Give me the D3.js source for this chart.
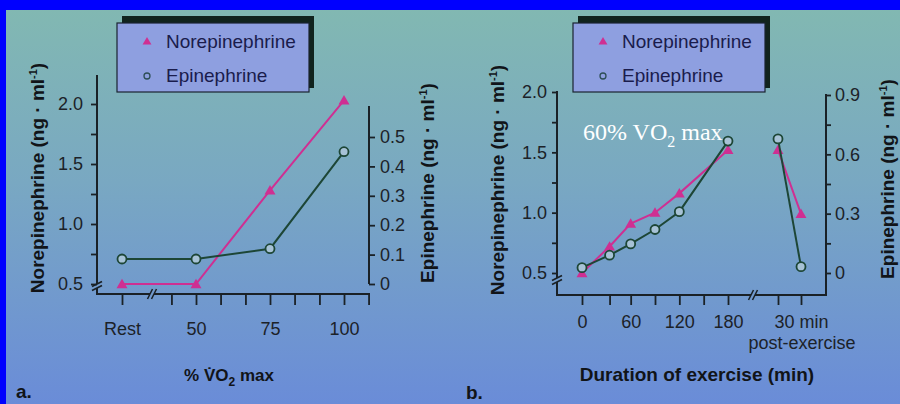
<!DOCTYPE html>
<html>
<head>
<meta charset="utf-8">
<script src="https://cdn.jsdelivr.net/npm/d3@7"></script>
<style>
  body { margin: 0; }
  svg { display: block; font-family: "Liberation Sans", Arial, sans-serif; }
</style>
</head>
<body>
<svg id="chart" width="900" height="404"></svg>
<script>
// ---- data ----
// panel a: intensity (Rest plotted one "50-step" left of 50)
const vo2Labels = ['Rest', '50', '75', '100'];
const vo2Pos = [25, 50, 75, 100];
const noreByIntensity = [0.5, 0.5, 1.28, 2.03];
const epiByIntensity = [0.085, 0.085, 0.12, 0.45];
const vo2Ticks = [25, 41.7, 50, 58.3, 66.7, 75, 83.3, 91.7, 100, 108.3];

// panel b: duration at 60% VO2 max, then post-exercise
const exMinutes = [0, 34, 60, 90, 120, 180];
const noreByTime = [0.5, 0.72, 0.91, 1.0, 1.16, 1.52];
const epiByTime = [0.027, 0.09, 0.147, 0.22, 0.31, 0.667];
const postMinutes = [0, 30];
const norePost = [1.52, 0.99];
const epiPost = [0.678, 0.032];
const timeTicks = [0, 34, 60, 90, 120, 150, 180];
const timeTickLabels = ['0', '', '60', '', '120', '', '180'];

const noreTicks = [0.5, 0.75, 1.0, 1.25, 1.5, 1.75, 2.0];
const epiTicksA = [0, 0.1, 0.2, 0.3, 0.4, 0.5];
const epiTicksB = [0, 0.15, 0.3, 0.45, 0.6, 0.75, 0.9];

// ---- style ----
const NORE = '#cf2f92';
const EPI = '#1d4636';
const AXIS = '#1a2126';
const TEXT = '#1c2228';

const svg = d3.select('#chart');

// background gradient + blue frame
const defs = svg.append('defs');
const grad = defs.append('linearGradient').attr('id', 'bg')
    .attr('x1', 0).attr('y1', 0).attr('x2', 0).attr('y2', 1);
grad.append('stop').attr('offset', '0%').attr('stop-color', '#82b9b1');
grad.append('stop').attr('offset', '45%').attr('stop-color', '#79a8c2');
grad.append('stop').attr('offset', '100%').attr('stop-color', '#6a8cd8');
svg.append('rect').attr('width', 900).attr('height', 404).attr('fill', 'url(#bg)');
svg.append('rect').attr('width', 900).attr('height', 10).attr('fill', '#0000ff');
svg.append('rect').attr('width', 6).attr('height', 404).attr('fill', '#0000ff');

// =========================================
// HELPERS
// =========================================

function line(g, x1, y1, x2, y2, w = 2) {
    g.append('line')
        .attr('x1', x1).attr('y1', y1).attr('x2', x2).attr('y2', y2)
        .attr('stroke', AXIS).attr('stroke-width', w);
}

// "//" on a horizontal axis
function xBreak(g, x, y) {
    [-2, 2].forEach(o => line(g, x + o - 2.5, y + 5, x + o + 2.5, y - 5, 1.6));
}

// "//" on a vertical axis
function yBreak(g, x, y) {
    [-2, 2].forEach(o => line(g, x - 5, y + o + 2.5, x + 5, y + o - 2.5, 1.6));
}

function styleAxis(g) {
    g.select('.domain').remove();
    g.selectAll('.tick line').attr('stroke', AXIS).attr('stroke-width', 1.8);
    g.selectAll('.tick text')
        .attr('fill', TEXT)
        .style('font-size', '18px')
        .style('font-family', '"Liberation Sans", Arial, sans-serif');
}

function yTitle(g, x, y, name) {
    const t = g.append('text')
        .attr('transform', `translate(${x},${y}) rotate(-90)`)
        .attr('text-anchor', 'middle')
        .attr('dy', '0.35em')
        .attr('fill', '#111418')
        .style('font-size', '19px')
        .style('font-weight', 'bold');
    t.append('tspan').text(`${name} (ng · ml`);
    t.append('tspan').attr('dy', -7).style('font-size', '11px').text('-1');
    t.append('tspan').attr('dy', 7).text(')');
}

function legend(g, x0) {
    g.append('rect').attr('x', x0 + 5).attr('y', 16).attr('width', 192).attr('height', 72)
        .attr('fill', '#11231d');
    g.append('rect').attr('x', x0).attr('y', 23).attr('width', 192).attr('height', 69)
        .attr('fill', '#8e9fe0').attr('stroke', '#1a2430').attr('stroke-width', 1.2);
    g.append('path')
        .attr('d', d3.symbol(d3.symbolTriangle, 34)())
        .attr('transform', `translate(${x0 + 30},42)`)
        .attr('fill', NORE);
    g.append('circle').attr('cx', x0 + 30).attr('cy', 76).attr('r', 3)
        .attr('fill', 'none').attr('stroke', '#2d4e56').attr('stroke-width', 1.3);
    g.append('text').attr('x', x0 + 49).attr('y', 48).text('Norepinephrine')
        .attr('fill', '#1a1c4c').style('font-size', '19px');
    g.append('text').attr('x', x0 + 49).attr('y', 81.5).text('Epinephrine')
        .attr('fill', '#1a1c4c').style('font-size', '19px');
}

function series(g, xs, ys, x, y) {
    // xs/ys: parallel arrays; returns point list
    return xs.map((v, i) => [x(v), y(ys[i])]);
}

function drawNore(g, pts) {
    g.append('path').attr('d', d3.line()(pts))
        .attr('fill', 'none').attr('stroke', NORE).attr('stroke-width', 2);
    g.selectAll(null).data(pts).enter().append('path')
        .attr('d', d3.symbol(d3.symbolTriangle, 52)())
        .attr('transform', d => `translate(${d[0]},${d[1] + 1})`)
        .attr('fill', NORE);
}

function drawEpi(g, pts) {
    g.append('path').attr('d', d3.line()(pts))
        .attr('fill', 'none').attr('stroke', EPI).attr('stroke-width', 2);
    g.selectAll(null).data(pts).enter().append('circle')
        .attr('cx', d => d[0]).attr('cy', d => d[1]).attr('r', 4.5)
        .attr('fill', '#a7c2d6').attr('stroke', EPI).attr('stroke-width', 1.8);
}

// =========================================
// PANEL A
// =========================================
const a = svg.append('g');
const xA = d3.scaleLinear().domain([25, 100]).range([122, 344]);
const yA = d3.scaleLinear().domain([0.5, 2.0]).range([284, 104]);
const yAe = d3.scaleLinear().domain([0, 0.5]).range([284, 137]);

legend(a, 117);

// left axis with break
line(a, 97, 75, 97, 284);
line(a, 97, 288, 97, 295);
yBreak(a, 97, 286);
a.append('g').attr('transform', 'translate(97,0)')
    .call(d3.axisLeft(yA).tickValues(noreTicks)
        .tickFormat(d => (d * 2) % 1 === 0 ? d.toFixed(1) : '')
        .tickSize(6).tickPadding(8))
    .call(styleAxis);

// right axis
line(a, 369, 106, 369, 284);
a.append('g').attr('transform', 'translate(369,0)')
    .call(d3.axisRight(yAe).tickValues(epiTicksA)
        .tickFormat(d => d === 0 ? '0' : d.toFixed(1))
        .tickSize(6).tickPadding(5))
    .call(styleAxis);

// x axis with break
line(a, 96, 294, 150, 294);
line(a, 154, 294, 370, 294);
xBreak(a, 152, 294);
a.append('g').attr('transform', 'translate(0,294)')
    .call(d3.axisBottom(xA).tickValues(vo2Ticks)
        .tickFormat(d => { const i = vo2Pos.indexOf(d); return i < 0 ? '' : vo2Labels[i]; })
        .tickSize(11).tickPadding(17))
    .call(styleAxis);

drawNore(a, series(a, vo2Pos, noreByIntensity, xA, yA));
drawEpi(a, series(a, vo2Pos, epiByIntensity, xA, yAe));

yTitle(a, 37, 178, 'Norepinephrine');
yTitle(a, 427, 183, 'Epinephrine');

const xtA = a.append('text').attr('x', 229).attr('y', 381).attr('text-anchor', 'middle')
    .attr('fill', '#111418').style('font-size', '17px').style('font-weight', 'bold');
xtA.append('tspan').text('% V\u0307O');
xtA.append('tspan').attr('dy', 5).style('font-size', '12px').text('2');
xtA.append('tspan').attr('dy', -5).text(' max');

a.append('text').attr('x', 16).attr('y', 398).text('a.')
    .attr('fill', '#111418').style('font-size', '19px').style('font-weight', 'bold');

// =========================================
// PANEL B
// =========================================
const b = svg.append('g');
const xB = d3.scaleLinear().domain([0, 180]).range([582, 728]);
const xP = d3.scaleLinear().domain([0, 30]).range([778, 801]);
const yB = d3.scaleLinear().domain([0.5, 2.0]).range([273, 92]);
const yBe = d3.scaleLinear().domain([0, 0.9]).range([273, 95]);

legend(b, 573);

// left axis with break
line(b, 557, 91, 557, 278);
line(b, 557, 282, 557, 296);
yBreak(b, 557, 280);
b.append('g').attr('transform', 'translate(557,0)')
    .call(d3.axisLeft(yB).tickValues(noreTicks)
        .tickFormat(d => (d * 2) % 1 === 0 ? d.toFixed(1) : '')
        .tickSize(5).tickPadding(5))
    .call(styleAxis);

// right axis
line(b, 826, 94, 826, 296);
b.append('g').attr('transform', 'translate(826,0)')
    .call(d3.axisRight(yBe).tickValues(epiTicksB)
        .tickFormat(d => d === 0 ? '0' : (Math.round(d * 10) % 3 === 0 ? d.toFixed(1) : ''))
        .tickSize(5).tickPadding(4))
    .call(styleAxis);

// x axis with break
line(b, 556, 295, 751, 295);
line(b, 755, 295, 827, 295);
xBreak(b, 753, 295);
b.append('g').attr('transform', 'translate(0,295)')
    .call(d3.axisBottom(xB).tickValues(timeTicks)
        .tickFormat((d, i) => timeTickLabels[i])
        .tickSize(10).tickPadding(10))
    .call(styleAxis);
b.append('g').attr('transform', 'translate(0,295)')
    .call(d3.axisBottom(xP).tickValues(postMinutes)
        .tickFormat(d => d === 30 ? '30 min' : '')
        .tickSize(10).tickPadding(10))
    .call(styleAxis);
b.append('text').attr('x', 802).attr('y', 349).attr('text-anchor', 'middle')
    .text('post-exercise').attr('fill', TEXT).style('font-size', '18px');

drawNore(b, series(b, exMinutes, noreByTime, xB, yB));
drawNore(b, series(b, postMinutes, norePost, xP, yB));
drawEpi(b, series(b, exMinutes, epiByTime, xB, yBe));
drawEpi(b, series(b, postMinutes, epiPost, xP, yBe));

yTitle(b, 497, 180, 'Norepinephrine');
yTitle(b, 887, 179, 'Epinephrine');

b.append('text').attr('x', 697).attr('y', 381).attr('text-anchor', 'middle')
    .text('Duration of exercise (min)')
    .attr('fill', '#111418').style('font-size', '19px').style('font-weight', 'bold');

b.append('text').attr('x', 466).attr('y', 399).text('b.')
    .attr('fill', '#111418').style('font-size', '19px').style('font-weight', 'bold');

// annotation in white serif
const ann = b.append('text').attr('x', 583).attr('y', 140)
    .attr('fill', '#ffffff')
    .style('font-family', '"Liberation Serif", "Times New Roman", serif')
    .style('font-size', '24px');
ann.append('tspan').text('60% VO');
ann.append('tspan').attr('dy', 7).style('font-size', '16px').text('2');
ann.append('tspan').attr('dy', -7).text(' max');
</script>
</body>
</html>
